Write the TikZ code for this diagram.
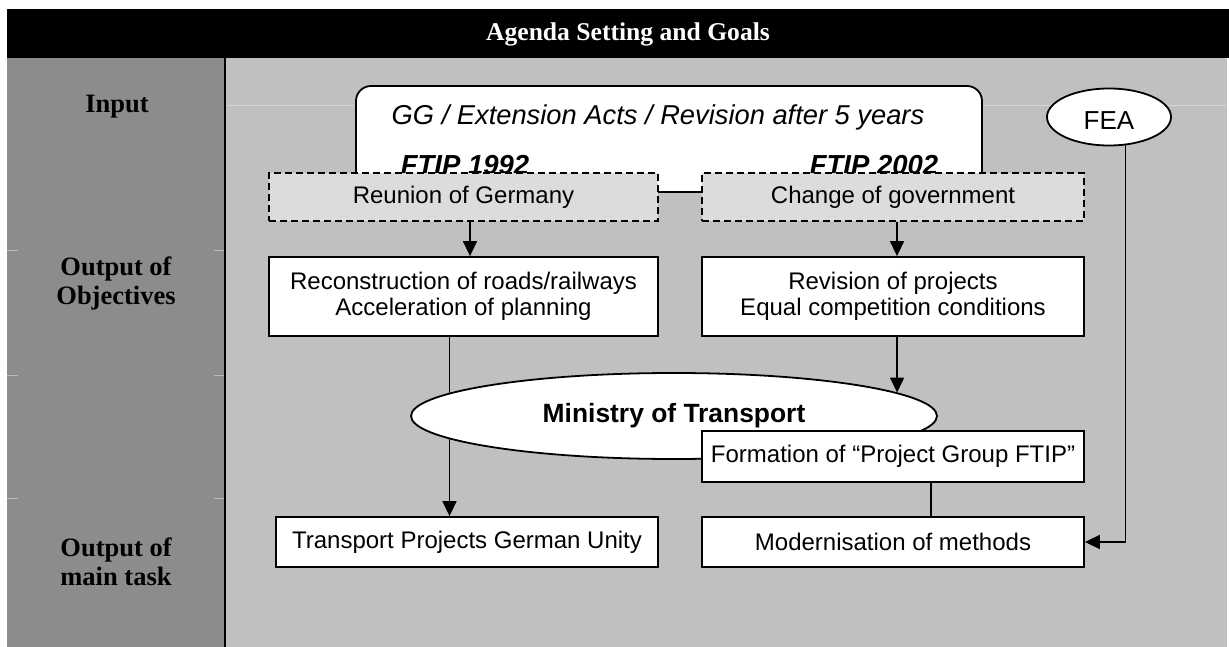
\documentclass[tikz,border=0pt]{standalone}
\usepackage{fontspec}
\setmainfont{Liberation Sans}
\newfontfamily\rowserif{Liberation Serif}
\usetikzlibrary{arrows.meta, calc, shapes.geometric, backgrounds}

\definecolor{rowgray}{HTML}{8C8C8C}
\definecolor{fieldgray}{HTML}{C0C0C0}
\definecolor{causegray}{HTML}{DCDCDC}
\definecolor{ruleline}{HTML}{D6D6D6}

\tikzset{
    plainbox/.style={draw=black, line width=1.8pt, fill=white, inner sep=0pt,
        align=center, font=\fontsize{24}{26}\selectfont},
    causebox/.style={plainbox, fill=causegray, dash pattern=on 7pt off 4pt},
    rowcap/.style={align=center, font=\rowserif\bfseries\fontsize{26.5}{29}\selectfont},
    ftip/.style={anchor=base, font=\bfseries\itshape\fontsize{27.5}{30}\selectfont},
    link/.style={line width=1.6pt, -{Triangle[length=15pt,width=14pt]}}
}

\begin{document}
\begin{tikzpicture}[x=1pt, y=-1pt]
    % Page with a thin white margin
    \useasboundingbox (0,0) rectangle (1229,647);
    % Header band and the two table columns
    \fill[black] (7,9) rectangle (1229,58);
    \fill[rowgray] (7,58) rectangle (225,647);
    \fill[fieldgray] (225,58) rectangle (1227,647);
    \draw[line width=2pt] (225,58) -- (225,647);
    % faint table rules
    \draw[ruleline, line width=0.8pt] (227,105) -- (1227,105);
    \foreach \y in {250,375,498} {
        \draw[rowgray!60!white, line width=0.8pt] (7,\y) -- (18,\y);
        \draw[rowgray!60!white, line width=0.8pt] (214,\y) -- (224,\y);
    }

    \node[text=white, font=\rowserif\bfseries\fontsize{25.6}{28}\selectfont] (title) at (628,34) {Agenda Setting and Goals};

    % Row captions
    \node[rowcap] (input) at (117,107) {Input};
    \node[rowcap] (objectives) at (116,283) {Output of\\Objectives};
    \node[rowcap] (maintask) at (116,562) {Output of\\main task};

    % Legal basis, partly covered by the two causes
    \node[draw, line width=1.8pt, fill=white, rounded corners=15pt,
        minimum width=626pt, minimum height=106pt] (acts) at (669,139) {};
    \node[font=\itshape\fontsize{27.3}{30}\selectfont] (actstext) at (658,117) {GG / Extension Acts / Revision after 5 years};
    \node[ftip] (ftip92) at (465,175) {FTIP 1992};
    \node[ftip] (ftip02) at (874,175) {FTIP 2002};

    \node[draw, ellipse, fill=white, line width=1.8pt, inner sep=0pt,
        minimum width=124pt, minimum height=57pt, text height=25pt,
        font=\fontsize{26}{28}\selectfont] (fea) at (1109,117) {FEA};

    % Causes
    \node[causebox, minimum width=389pt, minimum height=48pt] (reunion) at (463.5,197) {Reunion of Germany};
    \node[causebox, minimum width=382pt, minimum height=48pt] (change) at (893,197) {Change of government};

    % Objectives
    \node[plainbox, minimum width=389pt, minimum height=79pt] (recon) at (463.5,296.5) {Reconstruction of roads/railways\\Acceleration of planning};
    \node[plainbox, minimum width=382pt, minimum height=79pt] (revision) at (893,296.5) {Revision of projects\\Equal competition conditions};

    % Main tasks
    \node[plainbox, minimum width=382pt, minimum height=50pt] (unity) at (467,542) {Transport Projects German Unity};
    \node[plainbox, minimum width=382pt, minimum height=50pt] (methods) at (893,542) {Modernisation of methods};

    % this one runs behind the ministry
    \draw[link] ([xshift=-14pt]recon.south) -- ([xshift=-14pt]recon.south |- unity.north);

    \node[draw, ellipse, fill=white, line width=1.8pt, inner sep=0pt,
        minimum width=526pt, minimum height=86pt,
        font=\bfseries\fontsize{26.4}{29}\selectfont] (ministry) at (674,416) {Ministry of Transport};
    \node[plainbox, minimum width=382pt, minimum height=51pt] (formation) at (893,456.5) {Formation of “Project Group FTIP”};

    % Connectors
    \draw[link] ([xshift=6.5pt]reunion.south) -- ([xshift=6.5pt]reunion.south |- recon.north);
    \draw[link] ([xshift=4pt]change.south) -- ([xshift=4pt]change.south |- revision.north);
    \draw[link] (revision.south -| ministry.6) -- (ministry.6);
    \draw[line width=1.6pt] ([xshift=38pt]formation.south) -- ([xshift=38pt]formation.south |- methods.north);
    \draw[link] (fea.-60) |- (methods.east);
\end{tikzpicture}
\end{document}
